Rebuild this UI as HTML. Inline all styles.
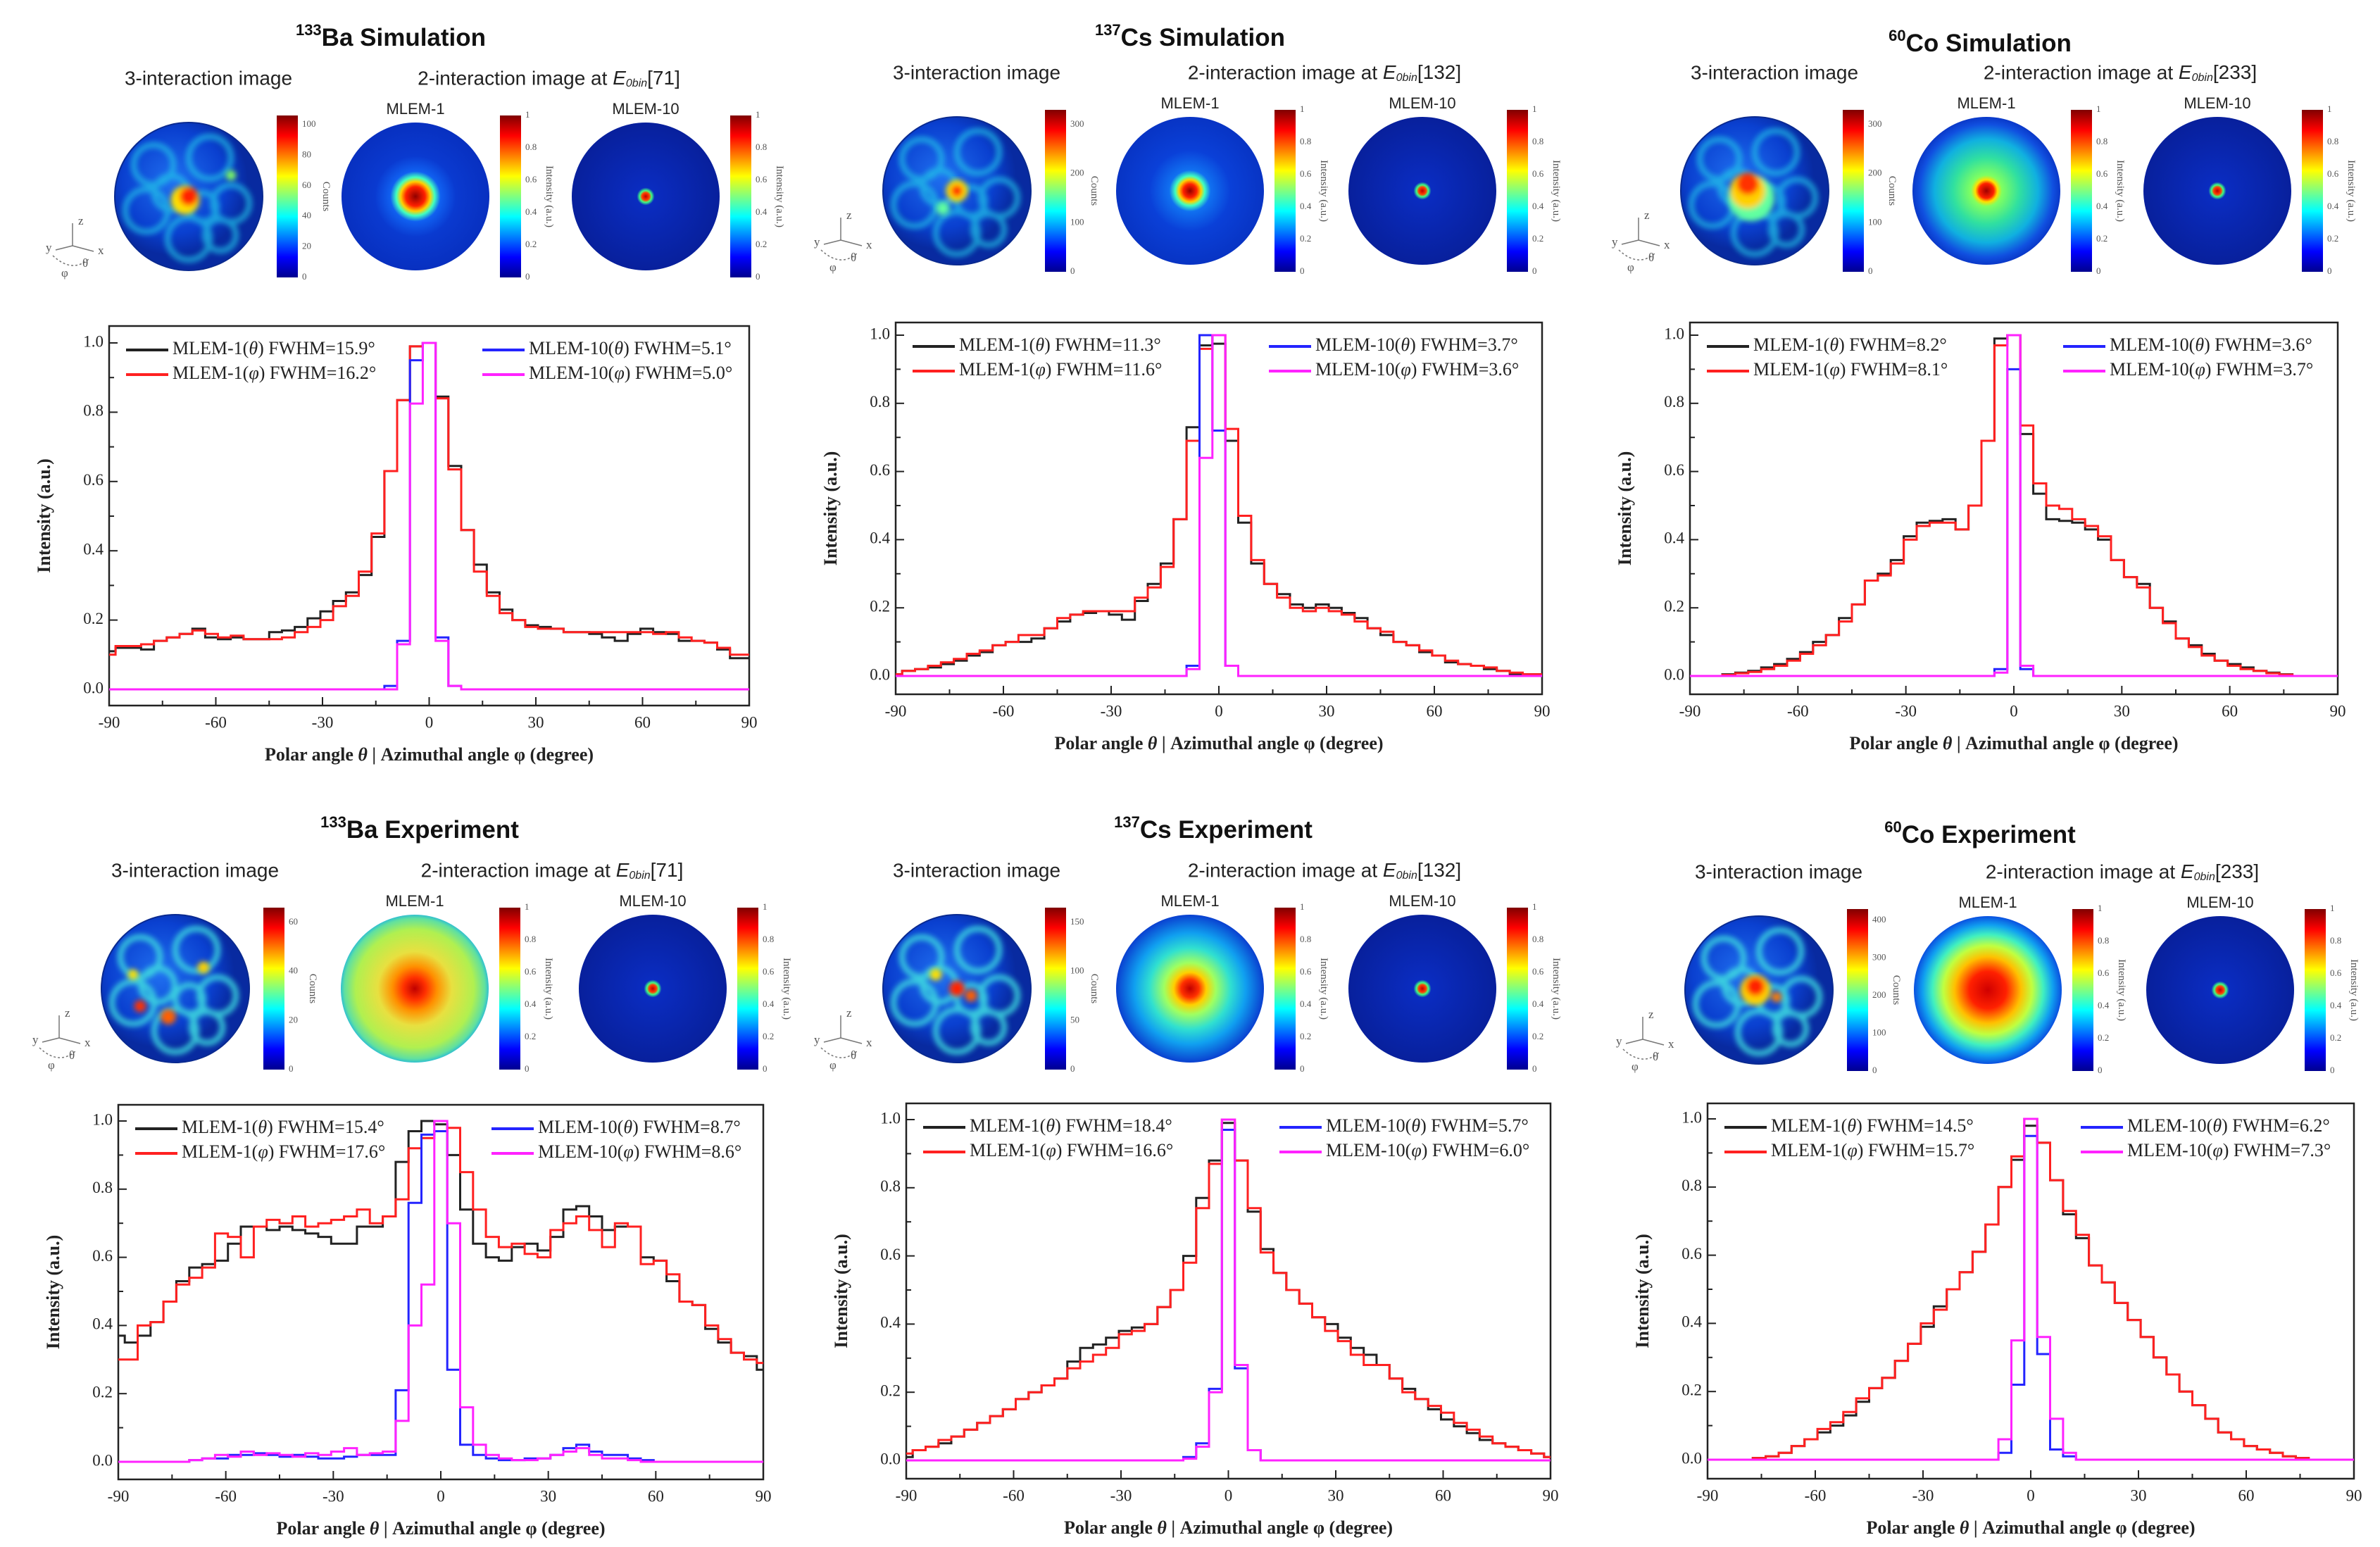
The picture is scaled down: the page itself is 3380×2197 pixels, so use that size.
<!DOCTYPE html>
<html><head><meta charset="utf-8">
<style>
html,body{margin:0;padding:0;background:#fff;}
svg{display:block;}
text{font-family:"Liberation Serif",serif;}
.sans{font-family:"Liberation Sans",sans-serif;}
</style></head>
<body>
<svg id="fig" xmlns="http://www.w3.org/2000/svg" width="3380" height="2197" viewBox="0 0 3380 2197">
<defs>
<linearGradient id="jet" x1="0" y1="0" x2="0" y2="1">
<stop offset="0" stop-color="#800000"/><stop offset="0.125" stop-color="#ff0000"/><stop offset="0.375" stop-color="#ffff00"/><stop offset="0.625" stop-color="#00ffff"/><stop offset="0.875" stop-color="#0000ff"/><stop offset="1" stop-color="#00008f"/>
</linearGradient>
<radialGradient id="gSim1a"><stop offset="0" stop-color="#900000"/><stop offset="0.13" stop-color="#ff2000"/><stop offset="0.2" stop-color="#ffd000"/><stop offset="0.26" stop-color="#40ffc0"/><stop offset="0.34" stop-color="#1060f0"/><stop offset="0.55" stop-color="#0a3ad0"/><stop offset="1" stop-color="#0830c0"/></radialGradient>
<radialGradient id="gSim1b"><stop offset="0" stop-color="#900000"/><stop offset="0.09" stop-color="#ff2000"/><stop offset="0.15" stop-color="#ffd000"/><stop offset="0.2" stop-color="#40ffc0"/><stop offset="0.28" stop-color="#1070f0"/><stop offset="0.55" stop-color="#0a40d8"/><stop offset="1" stop-color="#0834c4"/></radialGradient>
<radialGradient id="gSim1c"><stop offset="0" stop-color="#a00000"/><stop offset="0.1" stop-color="#ff2000"/><stop offset="0.15" stop-color="#ffe000"/><stop offset="0.21" stop-color="#80ff60"/><stop offset="0.45" stop-color="#30e0a0"/><stop offset="0.7" stop-color="#10b0e0"/><stop offset="0.9" stop-color="#1050e0"/><stop offset="1" stop-color="#0a38c8"/></radialGradient>
<radialGradient id="gM10"><stop offset="0" stop-color="#c00000"/><stop offset="0.05" stop-color="#ff4000"/><stop offset="0.08" stop-color="#40ff80"/><stop offset="0.12" stop-color="#0a2cc0"/><stop offset="1" stop-color="#08209c"/></radialGradient>
<radialGradient id="gExp1a"><stop offset="0" stop-color="#c00000"/><stop offset="0.15" stop-color="#ff3000"/><stop offset="0.3" stop-color="#ff9000"/><stop offset="0.5" stop-color="#e8e040"/><stop offset="0.8" stop-color="#b0f050"/><stop offset="0.95" stop-color="#60e0a0"/><stop offset="1" stop-color="#30c0d0"/></radialGradient>
<radialGradient id="gExp1b"><stop offset="0" stop-color="#c00000"/><stop offset="0.12" stop-color="#ff3000"/><stop offset="0.22" stop-color="#ffd000"/><stop offset="0.35" stop-color="#a0ff60"/><stop offset="0.55" stop-color="#30e0d0"/><stop offset="0.75" stop-color="#10a0f0"/><stop offset="1" stop-color="#0a40d0"/></radialGradient>
<radialGradient id="gExp1c"><stop offset="0" stop-color="#d00000"/><stop offset="0.25" stop-color="#ff2000"/><stop offset="0.45" stop-color="#ffc000"/><stop offset="0.6" stop-color="#c0ff40"/><stop offset="0.75" stop-color="#40f0c0"/><stop offset="0.88" stop-color="#10a0f0"/><stop offset="1" stop-color="#0a50e0"/></radialGradient>
<radialGradient id="g3int" cx="0.4" cy="0.4"><stop offset="0" stop-color="#2070f0"/><stop offset="0.7" stop-color="#0a40d0"/><stop offset="1" stop-color="#082aa0"/></radialGradient>
<filter id="blur4"><feGaussianBlur stdDeviation="4"/></filter>
</defs>
<g id="root"></g>
</svg>
<script>
// ---- chart data (51 bins, 3.6 degree width, centred from -90 to 90) ----
const binStart = -90;
const binWidth = 3.6;
const xTicks = [-90, -60, -30, 0, 30, 60, 90];
const yTicks = [0.0, 0.2, 0.4, 0.6, 0.8, 1.0];
const yTickLabels = ["0.0", "0.2", "0.4", "0.6", "0.8", "1.0"];

const baSimT = [.11,.12,.12,.115,.14,.15,.16,.175,.15,.145, .15,.145,.145,.165,.17,.18,.205,.225,.255,.28, .33,.44,.63,.835,.99,1.0,.845,.645,.46,.36, .28,.23,.2,.185,.18,.175,.165,.165,.16,.15, .14,.16,.175,.165,.16,.14,.14,.135,.115,.09, .09];
const baSimP = [.1,.125,.125,.13,.14,.15,.16,.17,.16,.15, .155,.145,.145,.145,.15,.165,.18,.2,.24,.27, .34,.45,.63,.835,.99,1.0,.84,.635,.46,.34, .27,.22,.2,.18,.175,.175,.165,.165,.165,.165, .165,.165,.165,.16,.165,.15,.14,.135,.12,.1, .1];
const baSimT10 = [0,0,0,0,0,0,0,0,0,0, 0,0,0,0,0,0,0,0,0,0, 0,0,.01,.14,.95,1.0,.15,.01,0,0, 0,0,0,0,0,0,0,0,0,0, 0,0,0,0,0,0,0,0,0,0, 0];
const baSimP10 = [0,0,0,0,0,0,0,0,0,0, 0,0,0,0,0,0,0,0,0,0, 0,0,0,.13,.825,1.0,.14,.01,0,0, 0,0,0,0,0,0,0,0,0,0, 0,0,0,0,0,0,0,0,0,0, 0];

const csSimT = [.005,.015,.02,.025,.035,.045,.06,.07,.09,.1, .1,.11,.14,.16,.18,.185,.19,.18,.165,.22, .27,.33,.46,.73,.97,.975,.69,.45,.33,.27, .24,.21,.2,.21,.2,.185,.17,.14,.12,.1, .09,.07,.06,.04,.035,.03,.02,.015,.005,.005, .005];
const csSimP = [.005,.015,.02,.03,.04,.05,.065,.075,.09,.1, .12,.12,.14,.17,.18,.19,.19,.19,.19,.23, .26,.32,.46,.69,.96,1.0,.725,.47,.34,.27, .23,.2,.19,.2,.19,.18,.16,.14,.13,.1, .09,.075,.06,.045,.035,.03,.025,.015,.01,.005, .005];
const csSimT10 = [0,0,0,0,0,0,0,0,0,0, 0,0,0,0,0,0,0,0,0,0, 0,0,0,.03,1.0,.72,.03,0,0,0, 0,0,0,0,0,0,0,0,0,0, 0,0,0,0,0,0,0,0,0,0, 0];
const csSimP10 = [0,0,0,0,0,0,0,0,0,0, 0,0,0,0,0,0,0,0,0,0, 0,0,0,.02,.64,1.0,.03,0,0,0, 0,0,0,0,0,0,0,0,0,0, 0,0,0,0,0,0,0,0,0,0, 0];

const coSimT = [0,0,0,.005,.01,.015,.025,.035,.05,.07, .1,.12,.17,.21,.28,.3,.34,.41,.45,.455, .46,.43,.5,.69,.99,1.0,.71,.535,.46,.455, .45,.43,.4,.34,.29,.27,.2,.16,.11,.09, .065,.045,.035,.025,.015,.01,.005,0,0,0, 0];
const coSimP = [0,0,0,.003,.008,.012,.02,.03,.045,.065, .09,.12,.16,.21,.28,.295,.33,.4,.44,.45, .45,.43,.5,.69,.97,1.0,.735,.565,.5,.49, .46,.44,.41,.34,.29,.26,.2,.155,.11,.085, .06,.045,.03,.02,.015,.008,.004,0,0,0, 0];
const coSimT10 = [0,0,0,0,0,0,0,0,0,0, 0,0,0,0,0,0,0,0,0,0, 0,0,0,0,.02,.9,.02,0,0,0, 0,0,0,0,0,0,0,0,0,0, 0,0,0,0,0,0,0,0,0,0, 0];
const coSimP10 = [0,0,0,0,0,0,0,0,0,0, 0,0,0,0,0,0,0,0,0,0, 0,0,0,0,.01,1.0,.03,0,0,0, 0,0,0,0,0,0,0,0,0,0, 0,0,0,0,0,0,0,0,0,0, 0];

const baExpT = [.37,.35,.37,.41,.47,.53,.57,.58,.59,.64, .69,.69,.68,.69,.68,.67,.66,.64,.64,.69, .69,.72,.88,.97,1.0,.99,.9,.74,.64,.6, .59,.63,.64,.62,.66,.74,.75,.72,.68,.69, .69,.6,.59,.53,.47,.46,.39,.35,.32,.31, .27];
const baExpP = [.3,.3,.4,.41,.47,.52,.54,.57,.67,.66, .6,.69,.71,.7,.72,.69,.7,.71,.72,.74, .7,.72,.77,.92,.95,.97,.98,.85,.74,.66, .63,.64,.61,.6,.68,.7,.72,.68,.63,.7, .69,.58,.59,.55,.47,.46,.4,.36,.32,.3, .29];
const baExpT10 = [0,0,0,0,0,0,.005,.01,.01,.02, .02,.025,.02,.015,.02,.015,.01,.01,.015,.02, .02,.02,.21,.76,.96,.97,.27,.05,.02,.01, .005,.005,.01,.01,.02,.04,.05,.03,.02,.02, .01,.005,0,0,0,0,0,0,0,0, 0];
const baExpP10 = [0,0,0,0,0,0,.005,.01,.02,.015, .03,.02,.025,.02,.015,.025,.02,.03,.04,.02, .025,.03,.12,.4,.52,1.0,.7,.16,.05,.02, .01,.005,.005,.01,.02,.03,.04,.02,.01,.01, .005,0,0,0,0,0,0,0,0,0, 0];

const csExpT = [.01,.03,.04,.05,.07,.09,.11,.13,.15,.18, .2,.22,.24,.29,.33,.34,.36,.38,.39,.4, .45,.5,.6,.77,.88,.99,.88,.73,.62,.55, .5,.46,.42,.4,.36,.33,.31,.28,.24,.21, .18,.15,.12,.1,.08,.06,.05,.04,.03,.02, .01];
const csExpP = [.02,.03,.04,.06,.07,.09,.11,.13,.15,.18, .2,.22,.24,.27,.29,.31,.33,.37,.38,.4, .45,.5,.58,.74,.87,1.0,.88,.74,.61,.55, .5,.46,.42,.38,.35,.31,.28,.28,.24,.2, .18,.16,.14,.11,.09,.07,.05,.04,.03,.02, .01];
const csExpT10 = [0,0,0,0,0,0,0,0,0,0, 0,0,0,0,0,0,0,0,0,0, 0,0,.01,.05,.21,.97,.27,.03,0,0, 0,0,0,0,0,0,0,0,0,0, 0,0,0,0,0,0,0,0,0,0, 0];
const csExpP10 = [0,0,0,0,0,0,0,0,0,0, 0,0,0,0,0,0,0,0,0,0, 0,0,.005,.04,.2,1.0,.28,.03,0,0, 0,0,0,0,0,0,0,0,0,0, 0,0,0,0,0,0,0,0,0,0, 0];

const coExpT = [0,0,0,0,.005,.01,.02,.04,.06,.08, .1,.13,.17,.21,.24,.29,.34,.39,.45,.5, .55,.61,.69,.8,.88,.98,.93,.82,.72,.65, .57,.52,.46,.41,.36,.3,.25,.2,.16,.12, .08,.06,.04,.03,.02,.01,.005,0,0,0, 0];
const coExpP = [0,0,0,0,.005,.01,.02,.04,.06,.09, .11,.14,.18,.21,.24,.29,.34,.4,.44,.5, .55,.61,.69,.8,.89,1.0,.93,.82,.73,.66, .57,.52,.46,.41,.36,.3,.25,.2,.16,.12, .08,.06,.04,.03,.02,.01,.005,0,0,0, 0];
const coExpT10 = [0,0,0,0,0,0,0,0,0,0, 0,0,0,0,0,0,0,0,0,0, 0,0,0,.02,.22,.95,.31,.03,.01,0, 0,0,0,0,0,0,0,0,0,0, 0,0,0,0,0,0,0,0,0,0, 0];
const coExpP10 = [0,0,0,0,0,0,0,0,0,0, 0,0,0,0,0,0,0,0,0,0, 0,0,0,.06,.35,1.0,.36,.12,.02,0, 0,0,0,0,0,0,0,0,0,0, 0,0,0,0,0,0,0,0,0,0, 0];

const fwhmBaSim = ["15.9", "16.2", "5.1", "5.0"];
const fwhmCsSim = ["11.3", "11.6", "3.7", "3.6"];
const fwhmCoSim = ["8.2", "8.1", "3.6", "3.7"];
const fwhmBaExp = ["15.4", "17.6", "8.7", "8.6"];
const fwhmCsExp = ["18.4", "16.6", "5.7", "6.0"];
const fwhmCoExp = ["14.5", "15.7", "6.2", "7.3"];

// ---- layout ----
const NS = "http://www.w3.org/2000/svg";
const root = document.getElementById("root");
function el(tag, attrs, parent) {
  const e = document.createElementNS(NS, tag);
  for (const k in attrs) e.setAttribute(k, attrs[k]);
  (parent || root).appendChild(e);
  return e;
}

const panels = [
  {key:"ba-sim", iso:"133", el:"Ba", kind:"Simulation", bin:"71", T:baSimT, P:baSimP, T10:baSimT10, P10:baSimP10, fw:fwhmBaSim,
   L:155, R:1064, top:463, B:1002, y0:979, y1:487, titleX:555, titleY:56, cy:279, cx:[268,590,917], g1:"gSim1a", mode:"sim", blobs:[[0,0,22,"#ff2000"],[-5,5,34,"#ffe000"],[60,-30,12,"#80ff60"]]},
  {key:"cs-sim", iso:"137", el:"Cs", kind:"Simulation", bin:"132", T:csSimT, P:csSimP, T10:csSimT10, P10:csSimP10, fw:fwhmCsSim,
   L:1272, R:2190, top:458, B:986, y0:960, y1:476, titleX:1690, titleY:56, cy:271, cx:[1359,1690,2020], g1:"gSim1b", mode:"sim", blobs:[[0,0,14,"#ff2000"],[0,0,26,"#ffe000"],[-20,25,16,"#60ffa0"]]},
  {key:"co-sim", iso:"60", el:"Co", kind:"Simulation", bin:"233", T:coSimT, P:coSimP, T10:coSimT10, P10:coSimP10, fw:fwhmCoSim,
   L:2400, R:3320, top:458, B:986, y0:960, y1:476, titleX:2812, titleY:64, cy:271, cx:[2492,2821,3149], g1:"gSim1c", mode:"sim", blobs:[[-10,-10,26,"#ff3000"],[-10,0,42,"#ffd000"],[-5,10,55,"#60ffa0"]]},
  {key:"ba-exp", iso:"133", el:"Ba", kind:"Experiment", bin:"71", T:baExpT, P:baExpP, T10:baExpT10, P10:baExpP10, fw:fwhmBaExp,
   L:168, R:1084, top:1569, B:2101, y0:2076, y1:1592, titleX:596, titleY:1181, cy:1404, cx:[249,589,927], g1:"gExp1a", mode:"exp", blobs:[[-50,25,14,"#ff3000"],[-10,40,18,"#ff6000"],[40,-30,14,"#ffd000"],[-60,-20,12,"#ffe000"]]},
  {key:"cs-exp", iso:"137", el:"Cs", kind:"Experiment", bin:"132", T:csExpT, P:csExpP, T10:csExpT10, P10:csExpP10, fw:fwhmCsExp,
   L:1287, R:2202, top:1567, B:2100, y0:2074, y1:1590, titleX:1723, titleY:1181, cy:1404, cx:[1359,1690,2020], g1:"gExp1b", mode:"exp", blobs:[[0,0,18,"#ff2000"],[20,10,14,"#ff6000"],[-30,-20,14,"#ffe000"]]},
  {key:"co-exp", iso:"60", el:"Co", kind:"Experiment", bin:"233", T:coExpT, P:coExpP, T10:coExpT10, P10:coExpP10, fw:fwhmCoExp,
   L:2425, R:3343, top:1567, B:2100, y0:2073, y1:1589, titleX:2812, titleY:1188, cy:1406, cx:[2498,2823,3153], g1:"gExp1c", mode:"exp", blobs:[[-5,-5,22,"#ff2000"],[-5,0,36,"#ffd000"],[25,10,12,"#ff8000"]]}
];

const cbLabels1 = {"ba-sim":["0","20","40","60","80","100"], "cs-sim":["0","100","200","300"], "co-sim":["0","100","200","300"],
                   "ba-exp":["0","20","40","60"], "cs-exp":["0","50","100","150"], "co-exp":["0","100","200","300","400"]};
const cbLabelsI = ["0","0.2","0.4","0.6","0.8","1"];

function stepPath(vals, xs, ys) {
  let d = "";
  for (let i = 0; i < vals.length; i++) {
    const c = binStart + binWidth * i;
    const a = Math.max(-90, c - binWidth / 2), b = Math.min(90, c + binWidth / 2);
    const y = ys(vals[i]).toFixed(1);
    d += (i === 0 ? "M" : "L") + xs(a).toFixed(1) + "," + y + "L" + xs(b).toFixed(1) + "," + y;
  }
  return d;
}

function addLegendText(g, x, y, label, sym, fw) {
  const t = el("text", {x:x, y:y, "font-size":"26", fill:"#222", "dominant-baseline":"middle"}, g);
  t.appendChild(document.createTextNode(label + "("));
  const s = el("tspan", {"font-style":"italic"}, t);
  s.textContent = sym;
  t.appendChild(document.createTextNode(") FWHM=" + fw + "°"));
  return t;
}

panels.forEach(p => {
  const g = el("g", {});
  
  

  // Title
  const tt = el("text", {x:p.titleX, y:p.titleY, "font-size":"35", "font-weight":"bold", "text-anchor":"middle", "dominant-baseline":"middle", class:"sans", fill:"#111"}, g);
  
  
  const sup = el("tspan", {"font-size":"22", dy:"-12"}, tt); sup.textContent = p.iso;
  const main = el("tspan", {dy:"12"}, tt); main.textContent = p.el + "  " + p.kind;

  const subY = p.cy - 166, mY = p.cy - 123;
  const s1 = el("text", {x:p.cx[0] + 28, y:subY, "font-size":"28", "text-anchor":"middle", "dominant-baseline":"middle", class:"sans", fill:"#222"}, g);
  
  
  s1.textContent = "3-interaction image";
  const s2 = el("text", {x:(p.cx[1] + p.cx[2]) / 2 + 26, y:subY, "font-size":"28", "text-anchor":"middle", "dominant-baseline":"middle", class:"sans", fill:"#222"}, g);
  
  
  s2.appendChild(document.createTextNode("2-interaction image at "));
  const ei = el("tspan", {"font-style":"italic"}, s2); ei.textContent = "E";
  const eb = el("tspan", {"font-size":"16", "font-style":"italic", dy:"6"}, s2); eb.textContent = "0bin";
  const e3 = el("tspan", {dy:"-6"}, s2); e3.textContent = "[" + p.bin + "]";
  const m1 = el("text", {x:p.cx[1], y:mY, "font-size":"22", "text-anchor":"middle", "dominant-baseline":"middle", class:"sans", fill:"#222"}, g);
  
  
  m1.textContent = "MLEM-1";
  const m10 = el("text", {x:p.cx[2], y:mY, "font-size":"22", "text-anchor":"middle", "dominant-baseline":"middle", class:"sans", fill:"#222"}, g);
  
  
  m10.textContent = "MLEM-10";

  // Images
  const r = 105;
  // 3-interaction
  const c0 = el("g", {}, g);
  
  
  el("circle", {cx:p.cx[0], cy:p.cy, r:r, fill:"url(#g3int)"}, c0);
  const net = el("g", {filter:"url(#blur4)", opacity:p.mode === "exp" ? "0.85" : "0.7"}, c0);
  const ringOffsets = [[-50,-45,28],[30,-55,30],[60,10,26],[-60,20,30],[0,60,30],[45,55,22],[-25,-5,24],[20,15,20]];
  ringOffsets.forEach(o => el("circle", {cx:p.cx[0] + o[0], cy:p.cy + o[1], r:o[2], fill:"none", stroke:p.mode === "exp" ? "#40e0e0" : "#20c8e8", "stroke-width":"8"}, net));
  const bl = el("g", {filter:"url(#blur4)"}, c0);
  p.blobs.slice().reverse().forEach(b => el("circle", {cx:p.cx[0] + b[0], cy:p.cy + b[1], r:b[2] * 0.6, fill:b[3]}, bl));
  el("circle", {cx:p.cx[0], cy:p.cy, r:r, fill:"none", stroke:"#0a2a90", "stroke-width":"2"}, c0);
  // MLEM-1
  const c1 = el("circle", {cx:p.cx[1], cy:p.cy, r:r, fill:"url(#" + p.g1 + ")"}, g);
  
  
  // MLEM-10
  const c2 = el("circle", {cx:p.cx[2], cy:p.cy, r:r, fill:"url(#gM10)"}, g);
  
  

  // colorbars
  for (let k = 0; k < 3; k++) {
    const bx = p.cx[k] + (k === 0 ? 125 : 120), by = p.cy - 115, bh = 230;
    const cb = el("g", {}, g);
    
    
    el("rect", {x:bx, y:by, width:30, height:bh, fill:"url(#jet)"}, cb);
    const labs = k === 0 ? cbLabels1[p.key] : cbLabelsI;
    labs.forEach((lab, j) => {
      const ty = by + bh - j * bh / (labs.length - 1 + (k === 0 ? 0.3 : 0));
      const tl = el("text", {x:bx + 36, y:ty, "font-size":"13", fill:"#555", "dominant-baseline":"middle"}, cb);
      tl.textContent = lab;
    });
    const ax = el("text", {x:0, y:0, "font-size":"15", fill:"#555", "text-anchor":"middle", transform:"translate(" + (bx + 66) + "," + (by + bh / 2) + ") rotate(90)"}, cb);
    ax.textContent = k === 0 ? "Counts" : "Intensity (a.u.)";
  }

  // axis triad icon
  const tri = el("g", {stroke:"#777", "stroke-width":"1.5", fill:"none"}, g);
  
  
  const ox = p.cx[0] - 165, oy = p.cy + 70;
  el("line", {x1:ox, y1:oy, x2:ox, y2:oy - 32}, tri);
  el("line", {x1:ox, y1:oy, x2:ox + 30, y2:oy + 8}, tri);
  el("line", {x1:ox, y1:oy, x2:ox - 24, y2:oy + 6}, tri);
  el("path", {d:"M" + (ox - 28) + "," + (oy + 14) + " Q" + ox + "," + (oy + 40) + " " + (ox + 24) + "," + (oy + 18), "stroke-dasharray":"3,3"}, tri);
  [["z", ox + 8, oy - 30], ["x", ox + 36, oy + 12], ["y", ox - 38, oy + 8], ["θ", ox + 14, oy + 30], ["φ", ox - 16, oy + 44]].forEach(a => {
    const t = el("text", {x:a[1], y:a[2], "font-size":"17", fill:"#555", stroke:"none"}, tri);
    t.textContent = a[0];
  });

  // plot
  const xs = v => p.L + (v + 90) / 180 * (p.R - p.L);
  const ys = v => p.y0 - v * (p.y0 - p.y1);
  const plot = el("g", {}, g);
  
  
  const frame = el("rect", {x:p.L, y:p.top, width:p.R - p.L, height:p.B - p.top, fill:"none", stroke:"#222", "stroke-width":"2.5"}, plot);
  
  

  // x ticks
  for (let v = -90; v <= 90; v += 15) {
    const major = xTicks.indexOf(v) >= 0;
    el("line", {x1:xs(v), y1:p.B, x2:xs(v), y2:p.B - (major ? 12 : 7), stroke:"#222", "stroke-width":"2"}, plot);
  }
  xTicks.forEach(v => {
    const t = el("text", {x:xs(v), y:p.B + 26, "font-size":"23", "text-anchor":"middle", "dominant-baseline":"middle", fill:"#222"}, plot);
    
    
    t.textContent = String(v);
  });
  // y ticks
  for (let k = 0; k <= 10; k++) {
    const v = k / 10;
    el("line", {x1:p.L, y1:ys(v), x2:p.L + (k % 2 === 0 ? 12 : 7), y2:ys(v), stroke:"#222", "stroke-width":"2"}, plot);
  }
  yTicks.forEach((v, j) => {
    const t = el("text", {x:p.L - 8, y:ys(v), "font-size":"23", "text-anchor":"end", "dominant-baseline":"middle", fill:"#222"}, plot);
    
    
    t.textContent = yTickLabels[j];
  });
  const xt = el("text", {x:(p.L + p.R) / 2, y:p.B + 72, "font-size":"26", "font-weight":"bold", "text-anchor":"middle", "dominant-baseline":"middle", fill:"#222"}, plot);
  
  
  xt.appendChild(document.createTextNode("Polar angle "));
  const th = el("tspan", {"font-style":"italic"}, xt); th.textContent = "θ";
  xt.appendChild(document.createTextNode(" | Azimuthal angle φ (degree)"));
  const yt = el("text", {x:0, y:0, "font-size":"26", "font-weight":"bold", "text-anchor":"middle", "dominant-baseline":"middle", fill:"#222", transform:"translate(" + (p.L - 90) + "," + ((p.top + p.B) / 2) + ") rotate(-90)"}, plot);
  
  
  yt.textContent = "Intensity (a.u.)";

  // series
  const series = [[p.T, "#222222", "mlem1-theta"], [p.P, "#ff2020", "mlem1-phi"], [p.T10, "#2424ff", "mlem10-theta"], [p.P10, "#ff22ff", "mlem10-phi"]];
  series.forEach(s => {
    const path = el("path", {d:stepPath(s[0], xs, ys), fill:"none", stroke:s[1], "stroke-width":"3", "stroke-linejoin":"miter"}, plot);
    
    
  });

  // legend
  const lg = el("g", {}, plot);
  
  
  const entries = [[p.L + 24, p.top + 34, "#222222", "MLEM-1", "θ", p.fw[0]], [p.L + 24, p.top + 69, "#ff2020", "MLEM-1", "φ", p.fw[1]],
                   [p.L + 530, p.top + 34, "#2424ff", "MLEM-10", "θ", p.fw[2]], [p.L + 530, p.top + 69, "#ff22ff", "MLEM-10", "φ", p.fw[3]]];
  entries.forEach(e => {
    const eg = el("g", {}, lg);
    
    
    el("line", {x1:e[0], y1:e[1], x2:e[0] + 60, y2:e[1], stroke:e[2], "stroke-width":"4"}, eg);
    addLegendText(eg, e[0] + 66, e[1], e[3], e[4], e[5]);
  });
});
</script>
</body></html>
